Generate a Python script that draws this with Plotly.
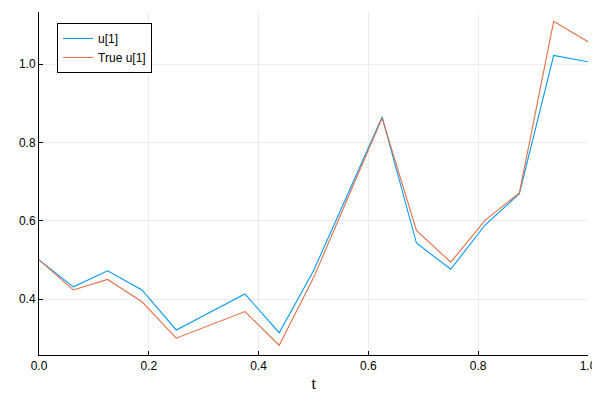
import plotly.graph_objects as go

t = [i / 16 for i in range(17)]
u_pred = [0.500, 0.431, 0.472, 0.423, 0.321, 0.368, 0.413, 0.314, 0.472,
          0.668, 0.865, 0.543, 0.476, 0.589, 0.669, 1.022, 1.006]
u_true = [0.500, 0.423, 0.450, 0.393, 0.300, 0.334, 0.368, 0.282, 0.454,
          0.658, 0.862, 0.575, 0.494, 0.601, 0.671, 1.109, 1.057]

font_family = "Liberation Sans, Arial, sans-serif"

fig = go.Figure()
fig.add_trace(go.Scatter(x=t, y=u_pred, mode="lines", name="u[1]",
                         line=dict(color="#009AFA", width=1.1)))
fig.add_trace(go.Scatter(x=t, y=u_true, mode="lines", name="True u[1]",
                         line=dict(color="#E36F47", width=1.1)))

axis_common = dict(
    showline=True, linecolor="black", linewidth=1, mirror=False,
    ticks="inside", ticklen=4, tickcolor="black", tickwidth=1,
    showgrid=True, gridcolor="#ececec", gridwidth=1, zeroline=False,
    tickfont=dict(size=12, color="black", family=font_family),
    automargin=False,
)

# page is rendered with an 8px body margin, so the figure is sized to fit
fig.update_layout(
    width=592, height=392,
    margin=dict(l=31, r=12, t=4, b=45),
    paper_bgcolor="white", plot_bgcolor="white",
    font=dict(family=font_family, color="black"),
    xaxis=dict(range=[0, 1], tickmode="array",
               tickvals=[0, 0.2, 0.4, 0.6, 0.8, 1.0],
               ticktext=["0.0", "0.2", "0.4", "0.6", "0.8", "1.0"],
               title=dict(text="t", font=dict(size=15, family=font_family), standoff=6),
               **axis_common),
    yaxis=dict(range=[0.257, 1.133], tickmode="array",
               tickvals=[0.4, 0.6, 0.8, 1.0],
               ticktext=["0.4", "0.6", "0.8", "1.0"],
               **axis_common),
    legend=dict(x=0.033, y=0.968, xanchor="left", yanchor="top",
                bordercolor="black", borderwidth=1, bgcolor="white",
                font=dict(size=12, family=font_family),
                tracegroupgap=0, itemwidth=30),
    showlegend=True,
)

fig.write_html("out.html")
